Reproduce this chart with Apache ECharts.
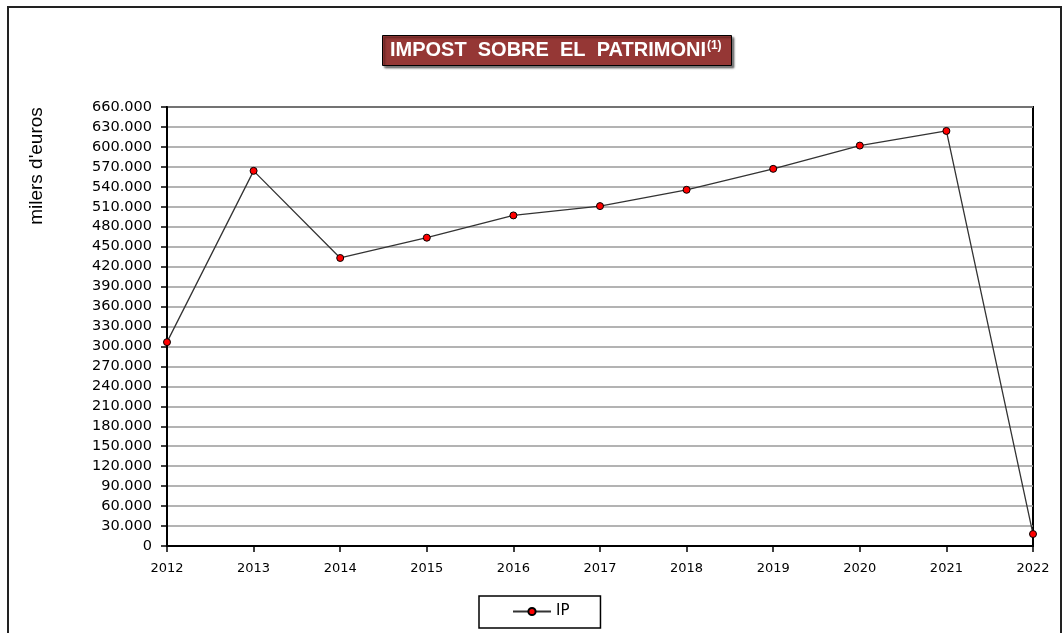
<!DOCTYPE html>
<html>
<head>
<meta charset="utf-8">
<script src="https://cdn.jsdelivr.net/npm/echarts@6/dist/echarts.min.js"></script>
<style>
  html, body { margin: 0; padding: 0; background: #fff; }
  #chart { width: 1064px; height: 633px; }
</style>
</head>
<body>
<div id="chart"></div>
<script>
// anys i valors (milers d'euros)
const years = ['2012', '2013', '2014', '2015', '2016', '2017', '2018', '2019', '2020', '2021', '2022']
const ipValues = [306500, 564000, 433000, 463500, 497000, 511000, 535500, 567000, 602000, 624000, 18000]
const yMax = 660000
const yStep = 30000

// separador de milers amb punt
function fmt (v) {
  return String(v).replace(/\B(?=(\d{3})+(?!\d))/g, '.')
}

const chart = echarts.init(document.getElementById('chart'))

const option = {
  animation: false,
  backgroundColor: '#fff',
  title: {
    text: '{a|IMPOST  SOBRE  EL  PATRIMONI}{s|(1)}',
    left: 382,
    top: 35,
    backgroundColor: '#953735',
    borderColor: '#000',
    borderWidth: 1,
    padding: [5, 10, 5, 8],
    shadowColor: 'rgba(0,0,0,0.5)',
    shadowOffsetX: 2,
    shadowOffsetY: 2,
    shadowBlur: 2,
    textStyle: {
      rich: {
        a: { color: '#fff', fontWeight: 'bold', fontSize: 20, fontFamily: 'Liberation Sans', lineHeight: 21 },
        s: { color: '#fff', fontWeight: 'bold', fontSize: 12, fontFamily: 'Liberation Sans', verticalAlign: 'top', lineHeight: 21, padding: [0, 0, 8, 1] }
      }
    }
  },
  legend: {
    left: 479,
    top: 596,
    padding: [8, 31, 9, 33],
    borderColor: '#000',
    borderWidth: 1.5,
    itemWidth: 38,
    itemHeight: 9,
    itemGap: 5,
    textStyle: { fontFamily: 'DejaVu Sans', fontSize: 15, color: '#000' },
    data: ['IP']
  },
  grid: {
    left: 167,
    right: 31,
    top: 107,
    bottom: 87,
    show: true,
    borderColor: '#000',
    borderWidth: 2
  },
  xAxis: {
    type: 'category',
    data: years,
    boundaryGap: false,
    axisLine: { lineStyle: { color: '#000', width: 2 } },
    axisTick: { show: true, length: 6, lineStyle: { color: '#000', width: 1.5 } },
    axisLabel: { color: '#000', fontFamily: 'DejaVu Sans', fontSize: 13, margin: 16 },
    splitLine: { show: false }
  },
  yAxis: {
    type: 'value',
    min: 0,
    max: yMax,
    interval: yStep,
    axisLine: { show: true, lineStyle: { color: '#000', width: 2 } },
    axisTick: { show: true, length: 6, lineStyle: { color: '#000', width: 1.5 } },
    axisLabel: { color: '#000', fontFamily: 'DejaVu Sans', fontSize: 14.5, margin: 15, formatter: fmt },
    splitLine: { show: true, lineStyle: { color: '#9a9a9a', width: 1.5 } }
  },
  graphic: [
    {
      type: 'rect',
      shape: { x: 8, y: 7, width: 1053, height: 640 },
      style: { fill: 'none', stroke: '#222', lineWidth: 2 },
      z: -1
    },
    {
      type: 'text',
      x: 37,
      y: 166,
      rotation: Math.PI / 2,
      style: {
        text: "milers d'euros",
        fontFamily: 'Liberation Sans',
        fontSize: 19,
        fill: '#000',
        align: 'center',
        verticalAlign: 'middle'
      }
    }
  ],
  series: [
    {
      name: 'IP',
      type: 'line',
      data: ipValues,
      symbol: 'circle',
      symbolSize: 7,
      lineStyle: { color: '#333', width: 1.3 },
      itemStyle: { color: '#ff0000', borderColor: '#000', borderWidth: 1 },
      z: 5
    }
  ]
}

chart.setOption(option)
</script>
</body>
</html>
